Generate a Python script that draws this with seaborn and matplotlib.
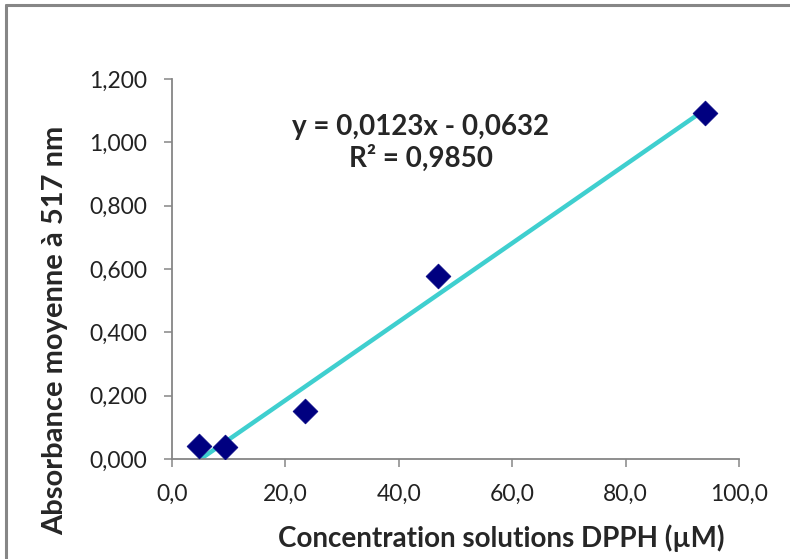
import numpy as np
import pandas as pd
import matplotlib.pyplot as plt
from matplotlib.lines import Line2D
from matplotlib.ticker import FuncFormatter
import seaborn as sns

# données
concentration = [4.7, 9.4, 23.5, 47.0, 94.0]      # µM
absorbance = [0.041, 0.038, 0.152, 0.578, 1.093]   # à 517 nm
equation = "y = 0,0123x - 0,0632"
r2_text = "R² = 0,9850"
xticks = [0, 20, 40, 60, 80, 100]
yticks = [0.0, 0.2, 0.4, 0.6, 0.8, 1.0, 1.2]

df = pd.DataFrame({'conc': concentration, 'abs': absorbance})

sns.set_style('ticks')
plt.rcParams['font.family'] = ['Lato', 'DejaVu Sans']
axis_grey = '#868686'

fig = plt.figure(figsize=(7.9, 5.59), dpi=100)
ax = fig.add_axes([0.2177, 0.1789, 0.9354 - 0.2177, 0.8587 - 0.1789])

# courbe de tendance
sns.regplot(data=df, x='conc', y='abs', scatter=False, ci=None, truncate=True,
            line_kws={'color': '#3FCFCF', 'lw': 3.2, 'zorder': 2}, ax=ax)
sns.scatterplot(data=df, x='conc', y='abs', marker='D', s=160, color='#000080',
                edgecolor='#000080', linewidth=0.5, zorder=3, ax=ax)

ax.set_xlim(0, 100)
ax.set_ylim(0, 1.2)
ax.set_xticks(xticks)
ax.set_yticks(yticks)
ax.xaxis.set_major_formatter(FuncFormatter(lambda v, p: f"{v:.1f}".replace('.', ',')))
ax.yaxis.set_major_formatter(FuncFormatter(lambda v, p: f"{v:.3f}".replace('.', ',')))

for side in ['top', 'right']:
    ax.spines[side].set_visible(False)
for side in ['left', 'bottom']:
    ax.spines[side].set_color(axis_grey)
    ax.spines[side].set_linewidth(1.3)
ax.tick_params(axis='both', direction='out', length=6, width=1.1, color=axis_grey,
               labelsize=16.5, labelcolor='#222222')
ax.tick_params(axis='y', pad=12)
ax.tick_params(axis='x', pad=12)

ax.set_xlabel('Concentration solutions DPPH (µM)', fontsize=20, fontweight='bold')
ax.set_ylabel('Absorbance moyenne à 517 nm', fontsize=21, fontweight='bold')
ax.xaxis.set_label_coords(0.58, -0.171)
ax.yaxis.set_label_coords(-0.183, 0.339)

ax.text(0.439, 0.874, equation, transform=ax.transAxes, ha='center', va='center',
        fontsize=20, fontweight='bold')
ax.text(0.439, 0.792, r2_text, transform=ax.transAxes, ha='center', va='center',
        fontsize=20, fontweight='bold')

# cadre du graphique (haut et gauche)
fig.add_artist(Line2D([6 / 790, 6 / 790], [0, 1 - 5 / 559], color=axis_grey, lw=2.2))
fig.add_artist(Line2D([6 / 790, 1], [1 - 5 / 559, 1 - 5 / 559], color=axis_grey, lw=2.2))

fig.savefig('out.png', dpi=100)
